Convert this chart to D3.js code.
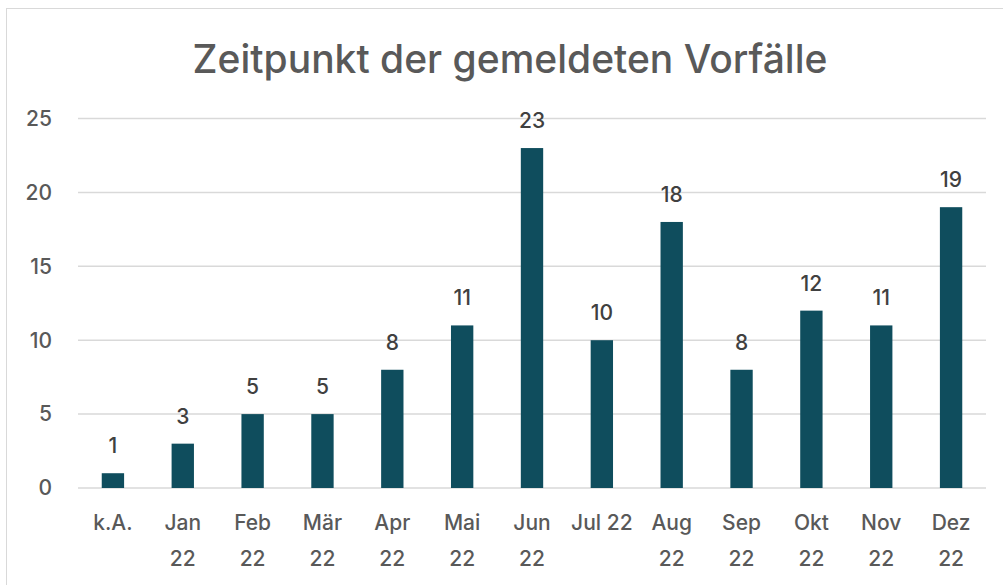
<!DOCTYPE html>
<html>
<head>
<meta charset="utf-8">
<title>Zeitpunkt der gemeldeten Vorfälle</title>
<script src="https://d3js.org/d3.v7.min.js"></script>
<style>
  body { margin: 0; background: #fff; }
  svg text { font-family: Inter, "Open Sans", sans-serif; font-weight: 500; }
</style>
</head>
<body>
<svg id="chart" width="1003" height="585"></svg>
<script>
// data
var categories = ["k.A.", "Jan 22", "Feb 22", "Mär 22", "Apr 22", "Mai 22", "Jun 22",
                  "Jul 22", "Aug 22", "Sep 22", "Okt 22", "Nov 22", "Dez 22"];
// how the category labels wrap in the picture
var labelLines = [["k.A."], ["Jan", "22"], ["Feb", "22"], ["Mär", "22"], ["Apr", "22"],
                  ["Mai", "22"], ["Jun", "22"], ["Jul 22"], ["Aug", "22"], ["Sep", "22"],
                  ["Okt", "22"], ["Nov", "22"], ["Dez", "22"]];
var values = [1, 3, 5, 5, 8, 11, 23, 10, 18, 8, 12, 11, 19];
var yTicks = [0, 5, 10, 15, 20, 25];
var title = "Zeitpunkt der gemeldeten Vorfälle";

var svg = d3.select("#chart");

// outer frame
svg.append("rect")
  .attr("x", 6.5).attr("y", 8.5)
  .attr("width", 1003).attr("height", 590)
  .attr("fill", "none")
  .attr("stroke", "#d9d9d9")
  .attr("stroke-width", 1);

var x = d3.scaleBand()
  .domain(categories)
  .range([78, 986])
  .paddingInner(0.68)
  .paddingOuter(0.34);

var y = d3.scaleLinear()
  .domain([0, 25])
  .range([488, 118.5]);

// title
svg.append("text")
  .attr("x", 510).attr("y", 73)
  .attr("text-anchor", "middle")
  .attr("font-size", 39)
  .attr("fill", "#595959")
  .text(title);

// gridlines
svg.append("g")
  .selectAll("line")
  .data(yTicks)
  .enter()
  .append("line")
    .attr("x1", 78).attr("x2", 986)
    .attr("y1", function(d) { return y(d); })
    .attr("y2", function(d) { return y(d); })
    .attr("stroke", "#d9d9d9")
    .attr("stroke-width", 1.5);

// y labels
svg.append("g")
  .selectAll("text")
  .data(yTicks)
  .enter()
  .append("text")
    .attr("x", 52)
    .attr("y", function(d) { return y(d); })
    .attr("dy", "0.35em")
    .attr("text-anchor", "end")
    .attr("font-size", 21)
    .attr("fill", "#595959")
    .text(function(d) { return d; });

// bars
svg.append("g")
  .selectAll("rect")
  .data(values)
  .enter()
  .append("rect")
    .attr("x", function(d, i) { return x(categories[i]); })
    .attr("y", function(d) { return y(d); })
    .attr("width", x.bandwidth())
    .attr("height", function(d) { return y(0) - y(d); })
    .attr("fill", "#0f4d5d");

// value labels
svg.append("g")
  .selectAll("text")
  .data(values)
  .enter()
  .append("text")
    .attr("x", function(d, i) { return x(categories[i]) + x.bandwidth() / 2; })
    .attr("y", function(d) { return y(d) - 20; })
    .attr("text-anchor", "middle")
    .attr("font-size", 21)
    .attr("fill", "#404040")
    .text(function(d) { return d; });

// category labels
var xl = svg.append("g")
  .selectAll("text")
  .data(categories)
  .enter()
  .append("text")
    .attr("text-anchor", "middle")
    .attr("font-size", 21)
    .attr("fill", "#595959");

xl.selectAll("tspan")
  .data(function(d, i) {
    var cx = x(d) + x.bandwidth() / 2;
    return labelLines[i].map(function(s, j) { return {s: s, cx: cx, j: j}; });
  })
  .enter()
  .append("tspan")
    .attr("x", function(d) { return d.cx; })
    .attr("y", function(d) { return 530 + d.j * 36; })
    .text(function(d) { return d.s; });
</script>
</body>
</html>
